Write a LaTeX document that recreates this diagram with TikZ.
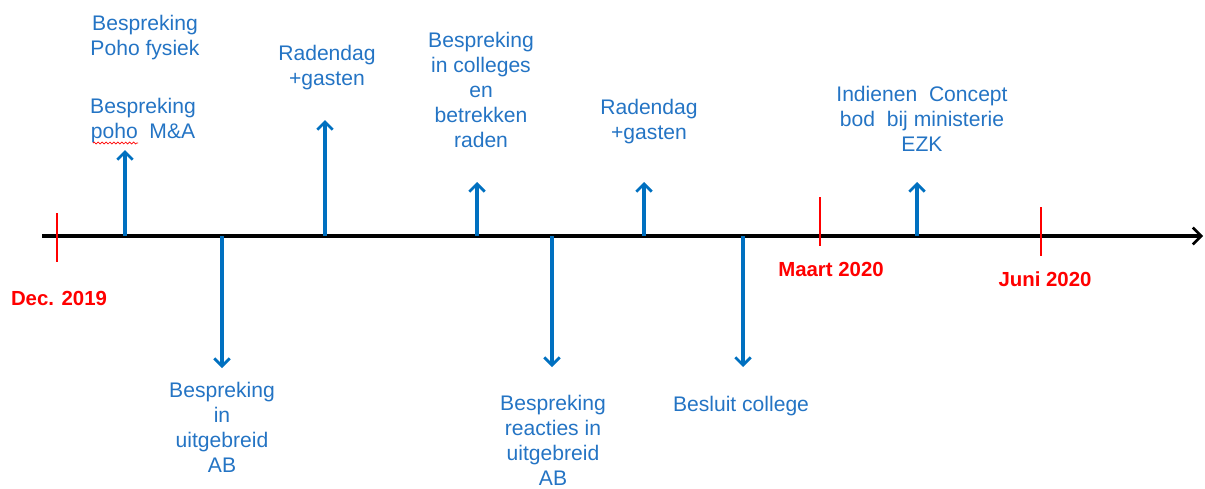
\documentclass[tikz,border=0pt]{standalone}
\usepackage{fontspec}
\setmainfont{Liberation Sans}
\usepackage{tikz}
\usetikzlibrary{arrows.meta}
\usetikzlibrary{positioning}
\usetikzlibrary{decorations.pathmorphing}
\definecolor{evblue}{RGB}{0,112,192}
\definecolor{txtblue}{RGB}{36,116,196}
\tikzstyle{timeline}=[line width=2.3pt,-{Straight Barb[length=6pt,width=12pt,line width=1.8pt]}]
\tikzstyle{ev}=[draw=evblue,line width=2.3pt,-{Straight Barb[length=5.5pt,width=11pt,line width=2pt]}]
\tikzstyle{evtxt}=[text=txtblue,align=center,inner sep=0,
                font=\fontsize{15}{17.8}\selectfont]
\tikzstyle{datetick}=[draw=red,line width=2pt]
\tikzstyle{datetxt}=[text=red,inner sep=0,font=\fontsize{14.5}{17}\selectfont\bfseries]
\tikzstyle{spell}=[draw=red,line width=0.5pt,decorate,
                decoration={snake,amplitude=0.7pt,segment length=2.8pt}]

\begin{document}
\begin{tikzpicture}[x=0.025cm,y=-0.025cm]
\useasboundingbox (0,0) rectangle (1205,488);
\coordinate (t0) at (42,236);
\coordinate (t1) at (1203,236);
\draw[timeline] (t0) -- (t1);
\coordinate (dec a) at (57,213);
\coordinate (dec b) at (57,262);
\coordinate (mrt a) at (820,197);
\coordinate (mrt b) at (820,246);
\coordinate (jun a) at (1041,207);
\coordinate (jun b) at (1041,256);
\draw[datetick] (dec a) -- (dec b);
\draw[datetick] (mrt a) -- (mrt b);
\draw[datetick] (jun a) -- (jun b);
\node[datetxt] (dec) at (59,298) {Dec. 2019};
\node[datetxt] (mrt) at (831,269) {Maart 2020};
\node[datetxt] (jun) at (1045,279) {Juni 2020};
\coordinate (e1) at (125,236);
\coordinate (e2) at (222,236);
\coordinate (e3) at (325,236);
\coordinate (e4) at (477,236);
\coordinate (e5) at (552,236);
\coordinate (e6) at (644,236);
\coordinate (e7) at (743,236);
\coordinate (e8) at (917,236);
\coordinate (p1) at (125,150);
\coordinate (p2) at (222,368);
\coordinate (p3) at (325,120);
\coordinate (p4) at (477,182);
\coordinate (p5) at (552,367);
\coordinate (p6) at (644,182);
\coordinate (p7) at (743,367);
\coordinate (p8) at (917,182);
\draw[ev] (e1) -- (p1);
\draw[ev] (e2) -- (p2);
\draw[ev] (e3) -- (p3);
\draw[ev] (e4) -- (p4);
\draw[ev] (e5) -- (p5);
\draw[ev] (e6) -- (p6);
\draw[ev] (e7) -- (p7);
\draw[ev] (e8) -- (p8);
\node[evtxt] (fys) at (145,37.5) {Bespreking\\Poho fysiek};
\node[evtxt] (mna) at (143,121) {Bespreking\\poho\ \ M\&A};
\node[evtxt] (rad1) at (327,67.5) {Radendag\\+gasten};
\node[evtxt] (coll) at (481,90) {Bespreking\\in colleges\\en\\betrekken\\raden};
\node[evtxt] (rad2) at (649,121.5) {Radendag\\+gasten};
\node[evtxt] (ezk) at (922,119) {Indienen\ \ Concept\\bod\ \ bij ministerie\\EZK};
\node[evtxt] (ab1) at (222,427.5) {Bespreking\\in\\uitgebreid\\AB};
\node[evtxt] (ab2) at (553,440) {Bespreking\\reacties in\\uitgebreid\\AB};
\node[evtxt] (bsl) at (741,406.5) {Besluit college};
\coordinate (sp a) at (93,143);
\coordinate (sp b) at (138,143);
\draw[spell] (sp a) -- (sp b);
\end{tikzpicture}
\end{document}
